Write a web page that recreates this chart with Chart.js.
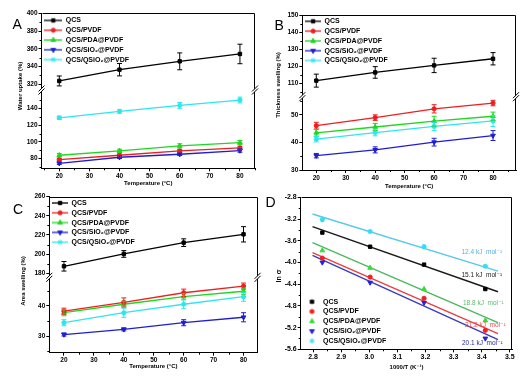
<!DOCTYPE html>
<html>
<head>
<meta charset="utf-8">
<title>Membrane swelling and conductivity</title>
<script src="https://cdn.jsdelivr.net/npm/chart.js@4.4.1/dist/chart.umd.min.js"></script>
<style>
  html, body { margin: 0; padding: 0; background: #fff; }
  #wrap { position: relative; width: 526px; height: 381px; overflow: hidden; font-family: "Liberation Sans", "DejaVu Sans", Arial, sans-serif; }
  canvas { position: absolute; }
  .letter { position: absolute; font-size: 14px; line-height: 14px; color: #000; }
  .ytitle { position: absolute; font-size: 6px; font-weight: bold; white-space: nowrap; color: #000; transform: translate(-50%, -50%) rotate(-90deg); }
  .ea { position: absolute; font-size: 6.5px; white-space: nowrap; transform: translateY(-50%); }
</style>
</head>
<body>
<div id="wrap">
  <canvas id="cA" width="263" height="190" style="left:0;top:0"></canvas>
  <canvas id="cB" width="263" height="190" style="left:263px;top:0"></canvas>
  <canvas id="cC" width="263" height="191" style="left:0;top:190px"></canvas>
  <canvas id="cD" width="263" height="191" style="left:263px;top:190px"></canvas>

  <div class="letter" style="left:12.5px;top:16.7px">A</div>
  <div class="letter" style="left:274.5px;top:18.4px">B</div>
  <div class="letter" style="left:13px;top:201.7px">C</div>
  <div class="letter" style="left:265.5px;top:195px">D</div>

  <div class="ytitle" style="left:20px;top:86px">Water uptake (%)</div>
  <div class="ytitle" style="left:278px;top:85px">Thickness swelling (%)</div>
  <div class="ytitle" style="left:23px;top:281px">Area swelling (%)</div>
  <div class="ytitle" style="left:278px;top:276px;font-size:7px">ln σ</div>

  <div class="ea" style="left:461.5px;top:251.7px;color:#55b4dc">12.4 kJ&nbsp; mol⁻¹</div>
  <div class="ea" style="left:461.5px;top:275px;color:#222">15.1 kJ&nbsp; mol⁻¹</div>
  <div class="ea" style="left:463px;top:302.7px;color:#5cb870">18.8 kJ&nbsp; mol⁻¹</div>
  <div class="ea" style="left:465px;top:325px;color:#e05050">21.2 kJ&nbsp; mol⁻¹</div>
  <div class="ea" style="left:462px;top:343.3px;color:#2a2a90">20.1 kJ&nbsp; mol⁻¹</div>
</div>
<script>
// ---------------- DATA ----------------
const temps = [20, 40, 60, 80];
const names = ['QCS', 'QCS/PVDF', 'QCS/PDA@PVDF', 'QCS/SiO₂@PVDF', 'QCS/QSiO₂@PVDF'];
const tempTicks = [20, 30, 40, 50, 60, 70, 80];

// A: water uptake (%)
const waterQCS = [323.8, 336.5, 345.9, 354.2];
const waterQCSErr = [5.6, 7, 9.5, 11];
const waterPVDF = [78.8, 84.0, 89.2, 92.8];
const waterPVDFErr = [1.5, 1.5, 1.5, 2];
const waterPDA = [84.0, 89.2, 95.2, 99.2];
const waterPDAErr = [2, 2, 2.5, 2.5];
const waterSiO2 = [74.4, 81.6, 85.2, 89.6];
const waterSiO2Err = [1.5, 1.5, 1.5, 2];
const waterQSiO2 = [128.8, 136.4, 143.6, 150.0];
const waterQSiO2Err = [2, 2, 3.5, 3.5];
const waterTopTicks = [320, 340, 360, 380, 400];
const waterBotTicks = [80, 100, 120, 140];

// B: thickness swelling (%)
const thickQCS = [111.6, 116.4, 120.5, 124.4];
const thickQCSErr = [3.8, 3.4, 4.2, 3.6];
const thickPVDF = [46.1, 49.0, 52.2, 54.3];
const thickPVDFErr = [1.2, 1.0, 1.5, 1.0];
const thickPDA = [43.5, 45.6, 47.7, 49.5];
const thickPDAErr = [1.2, 1.3, 1.8, 1.5];
const thickSiO2 = [35.2, 37.3, 40.1, 42.5];
const thickSiO2Err = [0.8, 1.1, 1.4, 1.8];
const thickQSiO2 = [41.2, 43.6, 45.8, 47.8];
const thickQSiO2Err = [1.0, 1.2, 1.5, 2.0];
const thickTopTicks = [110, 120, 130, 140, 150];
const thickBotTicks = [30, 40, 50];

// C: area swelling (%)
const areaQCS = [187.3, 200.2, 212.0, 220.7];
const areaQCSErr = [5, 3.5, 4, 8];
const areaPVDF = [38.2, 41.1, 44.3, 46.5];
const areaPVDFErr = [1, 1.5, 1.2, 1];
const areaPDA = [37.7, 40.5, 43.0, 44.8];
const areaPDAErr = [1, 1, 1, 1];
const areaSiO2 = [30.5, 32.2, 34.4, 36.2];
const areaSiO2Err = [0.5, 0.5, 1, 1.5];
const areaQSiO2 = [34.4, 37.7, 40.5, 43.0];
const areaQSiO2Err = [1, 1.5, 1.5, 1.5];
const areaTopTicks = [180, 200, 220, 240, 260];
const areaBotTicks = [30, 40];

// D: Arrhenius plot
const invT = [2.833, 3.003, 3.195, 3.413];
const lnQCS = [-3.45, -3.71, -4.04, -4.49];
const lnPVDF = [-3.92, -4.27, -4.66, -5.25];
const lnPDA = [-3.78, -4.10, -4.49, -5.07];
const lnSiO2 = [-4.00, -4.37, -4.74, -5.40];
const lnQSiO2 = [-3.21, -3.43, -3.71, -4.07];
const fitX = [2.798, 3.458];
const fitQCS = [-3.34, -4.54];
const fitPVDF = [-3.82, -5.31];
const fitPDA = [-3.635, -5.11];
const fitSiO2 = [-3.868, -5.42];
const fitQSiO2 = [-3.107, -4.16];
const invTTicks = [2.8, 2.9, 3.0, 3.1, 3.2, 3.3, 3.4, 3.5];
const lnTicks = [-2.8, -3.2, -3.6, -4.0, -4.4, -4.8, -5.2, -5.6];

// ---------------- STYLE ----------------
const FONT = '"Liberation Sans", "DejaVu Sans", Arial, sans-serif';
const seriesColors = ['#000000', '#f01e1e', '#1ed81e', '#1e1ed2', '#2de6ef'];
const dMarkerColors = ['#000000', '#ee2222', '#33dd33', '#2222dd', '#33ddf5'];
const fitColors = ['#1a1a1a', '#e84040', '#4cb860', '#3c3cbc', '#5ac8ea'];
const seriesStyles = ['rect', 'circle', 'triangle', 'triangle', 'star'];
const seriesRot = [0, 0, 0, 180, 0];
const seriesRadius = [2.4, 2.1, 2.7, 2.7, 2.6];
const tickFont = { family: FONT, size: 6.5, weight: 'bold' };
const tickFontD = { family: FONT, size: 7, weight: 'bold' };
const titleFont = { family: FONT, size: 6, weight: 'bold' };

// ---------------- PLUGINS ----------------
const errorBarPlugin = {
  id: 'errorBars',
  afterDatasetsDraw(chart) {
    const ctx = chart.ctx;
    chart.data.datasets.forEach((ds, di) => {
      if (!ds.errors) return;
      const meta = chart.getDatasetMeta(di);
      const ys = meta.yScale;
      ctx.save();
      ctx.strokeStyle = ds.borderColor;
      ctx.lineWidth = 1;
      ds.data.forEach((pt, i) => {
        const e = ds.errors[i];
        const x = meta.data[i].x;
        const y1 = ys.getPixelForValue(pt.y + e);
        const y2 = ys.getPixelForValue(pt.y - e);
        ctx.beginPath();
        ctx.moveTo(x, y1); ctx.lineTo(x, y2);
        ctx.moveTo(x - 2.5, y1); ctx.lineTo(x + 2.5, y1);
        ctx.moveTo(x - 2.5, y2); ctx.lineTo(x + 2.5, y2);
        ctx.stroke();
      });
      ctx.restore();
    });
  }
};

const framePlugin = {
  id: 'frameAndBreak',
  afterDraw(chart) {
    const ctx = chart.ctx, a = chart.chartArea;
    const L = Math.round(a.left) + 0.5, R = Math.round(a.right) - 0.5, T = Math.round(a.top) + 0.5;
    ctx.save();
    ctx.strokeStyle = '#000'; ctx.lineWidth = 1;
    ctx.beginPath();
    ctx.moveTo(L, T); ctx.lineTo(R, T); ctx.lineTo(R, a.bottom);
    ctx.stroke();
    // minor ticks (midpoints of major ticks)
    Object.values(chart.scales).forEach(sc => {
      const v = sc.ticks.map(t => t.value);
      if (v.length < 2) return;
      const step = v[1] - v[0];
      const minors = [v[0] - step / 2];
      for (let i = 0; i < v.length - 1; i++) minors.push((v[i] + v[i + 1]) / 2);
      minors.push(v[v.length - 1] + step / 2);
      ctx.beginPath();
      minors.forEach(m => {
        if (m < sc.min - 1e-9 || m > sc.max + 1e-9) return;
        const p = Math.round(sc.getPixelForValue(m)) + 0.5;
        if (sc.isHorizontal()) { ctx.moveTo(p, sc.top); ctx.lineTo(p, sc.top + 2); }
        else { ctx.moveTo(sc.right, p); ctx.lineTo(sc.right - 2, p); }
      });
      ctx.stroke();
    });
    // axis break marks
    const yb = chart.scales.yBot;
    if (yb) {
      const y = yb.top;
      [a.left, a.right].forEach(x => {
        ctx.fillStyle = '#fff';
        ctx.beginPath();
        ctx.moveTo(x - 3, y + 4.5); ctx.lineTo(x + 3, y - 1.5);
        ctx.lineTo(x + 3, y - 4.5); ctx.lineTo(x - 3, y + 1.5);
        ctx.closePath(); ctx.fill();
        ctx.beginPath();
        ctx.moveTo(x - 3, y + 4.5); ctx.lineTo(x + 3, y - 1.5);
        ctx.moveTo(x - 3, y + 1.5); ctx.lineTo(x + 3, y - 4.5);
        ctx.stroke();
      });
    }
    ctx.restore();
  }
};

// A vertical legend in the chart area gets top = 0 from Chart.js; put it back on the chart area.
const legendShiftPlugin = {
  id: 'legendShift',
  afterLayout(chart, args, opts) {
    const l = chart.legend, a = chart.chartArea;
    if (!l) return;
    const dx = (opts && opts.dx) || 0, dy = (opts && opts.dy) || 0;
    l.left += dx; l.right += dx;
    l.top = a.top + dy; l.bottom = a.bottom + dy;
  }
};

// ---------------- HELPERS ----------------
function legendSymbol(d, withLine, w, mx) {
  const c = document.createElement('canvas');
  c.width = w; c.height = 8;
  const g = c.getContext('2d');
  if (withLine) {
    g.strokeStyle = d.borderColor; g.lineWidth = 1.3;
    g.beginPath(); g.moveTo(0, 4); g.lineTo(w, 4); g.stroke();
  }
  g.fillStyle = d.backgroundColor; g.strokeStyle = d.borderColor; g.lineWidth = 1;
  Chart.helpers.drawPoint(g, { pointStyle: d.pointStyle, rotation: d.pointRotation || 0, radius: d.pointRadius, borderWidth: d.pointBorderWidth || 1 }, mx, 4);
  return c;
}

function legendCfg(withLine, bw, mx) {
  return {
    display: true, position: 'chartArea', align: 'start', fullSize: false,
    labels: {
      usePointStyle: true, pointStyleWidth: bw, padding: 2.8, color: '#000',
      font: { family: FONT, size: 7, weight: 'bold' },
      generateLabels(chart) {
        return chart.data.datasets.map((d, i) => ({ d, i })).filter(o => !o.d.noLegend).map(({ d, i }) => ({
          text: d.label, datasetIndex: i, hidden: false, lineWidth: 0,
          fillStyle: d.backgroundColor, strokeStyle: d.borderColor,
          pointStyle: legendSymbol(d, withLine, bw, mx), fontColor: '#000'
        }));
      }
    }
  };
}

function baseAxis(extra) {
  return Object.assign({
    type: 'linear',
    border: { display: true, color: '#000', width: 1 },
    grid: { display: true, drawOnChartArea: false, drawTicks: true, tickLength: 3, tickColor: '#000', tickWidth: 1 },
  }, extra);
}

function tickOpts(fmt, font) {
  const t = { font: font || tickFont, color: '#000', padding: 1, autoSkip: false, maxRotation: 0, minRotation: 0 };
  if (fmt) t.callback = fmt;
  return t;
}

function xAxis(min, max, list, h, title, pb, fmt, font) {
  return baseAxis({
    position: 'bottom', min, max,
    ticks: tickOpts(fmt, font),
    afterBuildTicks: ax => { ax.ticks = list.map(v => ({ value: v })); },
    afterFit: ax => { ax.height = h; },
    title: { display: true, text: title, color: '#000', font: titleFont, padding: { top: 0, bottom: pb } }
  });
}

function yAxis(min, max, list, w, extra, fmt, font) {
  return baseAxis(Object.assign({
    position: 'left', min, max,
    ticks: tickOpts(fmt, font),
    afterBuildTicks: ax => { ax.ticks = list.map(v => ({ value: v })); },
    afterFit: ax => { ax.width = w; }
  }, extra));
}

function seriesDataset(k, xs, vals, errs, axisId, colors) {
  return {
    label: names[k],
    data: xs.map((x, i) => ({ x: x, y: vals[i] })),
    errors: errs,
    yAxisID: axisId,
    borderColor: colors[k], backgroundColor: colors[k],
    borderWidth: 1.3, showLine: true,
    pointStyle: seriesStyles[k], pointRotation: seriesRot[k],
    pointRadius: seriesRadius[k], pointBorderWidth: seriesStyles[k] === 'star' ? 1.4 : 1,
    order: 1
  };
}

function brokenPanel(id, o) {
  const datasets = o.values.map((vals, k) => seriesDataset(k, temps, vals, o.errors[k], k === 0 ? 'yTop' : 'yBot', seriesColors));
  const cv = document.getElementById(id);
  return new Chart(cv, {
    type: 'scatter',
    data: { datasets },
    options: {
      responsive: false, maintainAspectRatio: false, animation: false, devicePixelRatio: 1, events: [],
      layout: { padding: { left: 0, top: o.T, right: cv.width - o.R, bottom: 0 } },
      scales: {
        x: xAxis(o.xMin, o.xMax, tempTicks, cv.height - o.B, 'Temperature (°C)', o.titlePad),
        yTop: yAxis(o.top.min, o.top.max, o.top.ticks, o.L, { stack: 'y', stackWeight: o.top.h, weight: 2 }),
        yBot: yAxis(o.bot.min, o.bot.max, o.bot.ticks, o.L, { stack: 'y', stackWeight: o.bot.h, weight: 1 })
      },
      plugins: {
        tooltip: { enabled: false },
        legend: legendCfg(true, o.legendW, o.legendW / 2),
        legendShift: { dx: 0, dy: o.legendDy || 0 }
      }
    },
    plugins: [errorBarPlugin, framePlugin, legendShiftPlugin]
  });
}

// ---------------- PANELS ----------------
brokenPanel('cA', {
  values: [waterQCS, waterPVDF, waterPDA, waterSiO2, waterQSiO2],
  errors: [waterQCSErr, waterPVDFErr, waterPDAErr, waterSiO2Err, waterQSiO2Err],
  L: 41.5, R: 255, T: 13.3, B: 168.3, xMin: 14.1, xMax: 85, titlePad: 3.4,
  top: { min: 313.6, max: 400, ticks: waterTopTicks, h: 76.7 },
  bot: { min: 68.4, max: 162, ticks: waterBotTicks, h: 78.3 },
  legendW: 18, legendDy: 0.8
});

brokenPanel('cB', {
  values: [thickQCS, thickPVDF, thickPDA, thickSiO2, thickQSiO2],
  errors: [thickQCSErr, thickPVDFErr, thickPDAErr, thickSiO2Err, thickQSiO2Err],
  L: 39.3, R: 253, T: 15, B: 170, xMin: 15.25, xMax: 87.8, titlePad: 0,
  top: { min: 102.2, max: 150, ticks: thickTopTicks, h: 81.7 },
  bot: { min: 30, max: 56.6, ticks: thickBotTicks, h: 73.3 },
  legendW: 16
});

brokenPanel('cC', {
  values: [areaQCS, areaPVDF, areaPDA, areaSiO2, areaQSiO2],
  errors: [areaQCSErr, areaPVDFErr, areaPDAErr, areaSiO2Err, areaQSiO2Err],
  L: 49.3, R: 260, T: 6.7, B: 162.7, xMin: 15.1, xMax: 84.7, titlePad: 10.7,
  top: { min: 175.8, max: 260, ticks: areaTopTicks, h: 80.6 },
  bot: { min: 24.5, max: 49.4, ticks: areaBotTicks, h: 75.4 },
  legendW: 16
});

(function () {
  const cv = document.getElementById('cD');
  const L = 37.7, R = 249.3, T = 7.3, B = 159.3;
  const lnSeries = [lnQCS, lnPVDF, lnPDA, lnSiO2, lnQSiO2];
  const fitSeries = [fitQCS, fitPVDF, fitPDA, fitSiO2, fitQSiO2];
  const datasets = [];
  lnSeries.forEach((vals, k) => {
    const d = seriesDataset(k, invT, vals, null, 'y', dMarkerColors);
    d.showLine = false; d.errors = undefined; d.order = 1;
    datasets.push(d);
  });
  fitSeries.forEach((vals, k) => {
    datasets.push({
      label: 'fit ' + names[k], noLegend: true,
      data: fitX.map((x, i) => ({ x: x, y: vals[i] })),
      yAxisID: 'y', showLine: true, pointRadius: 0,
      borderColor: fitColors[k], backgroundColor: fitColors[k], borderWidth: 1.4, order: 2
    });
  });
  new Chart(cv, {
    type: 'scatter',
    data: { datasets },
    options: {
      responsive: false, maintainAspectRatio: false, animation: false, devicePixelRatio: 1, events: [],
      layout: { padding: { left: 0, top: T, right: cv.width - R, bottom: 0 } },
      scales: {
        x: xAxis(2.756, 3.509, invTTicks, cv.height - B, '1000/T (K⁻¹)', 10.4, v => v.toFixed(1), tickFontD),
        y: yAxis(-5.6, -2.8, lnTicks, L, {}, v => v.toFixed(1), tickFontD)
      },
      plugins: {
        tooltip: { enabled: false },
        legend: legendCfg(false, 16, 8.5),
        legendShift: { dx: 0, dy: 98.1 }
      }
    },
    plugins: [framePlugin, legendShiftPlugin]
  });
})();
</script>
</body>
</html>
